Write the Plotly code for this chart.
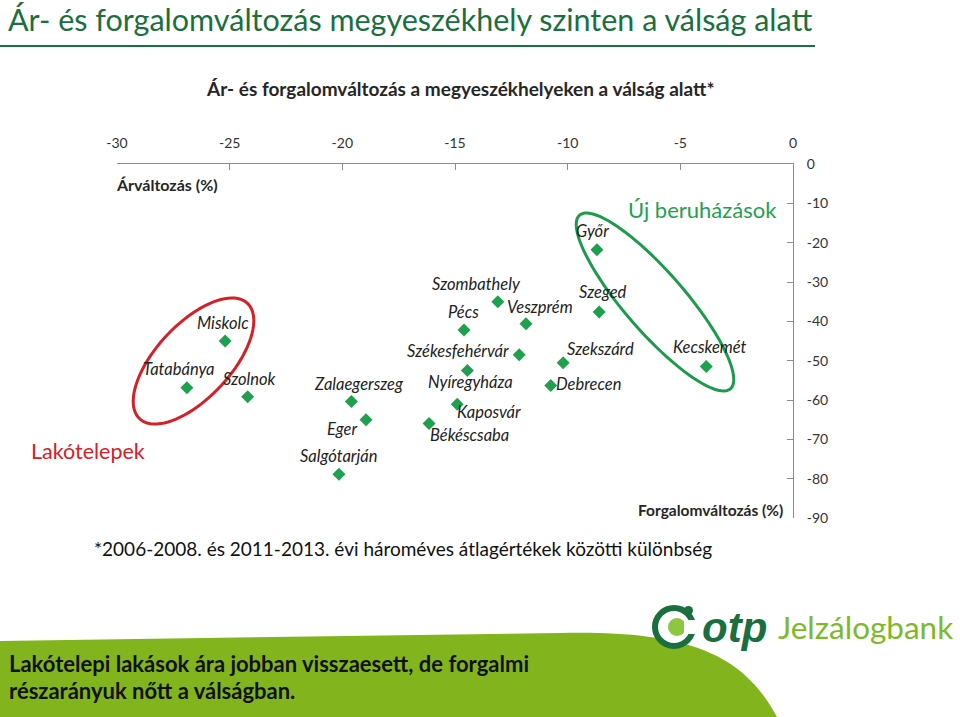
import numpy as np
import plotly.graph_objects as go

# ---------------- data ----------------
cities = ["Miskolc", "Tatabánya", "Szolnok", "Zalaegerszeg", "Eger", "Salgótarján",
          "Békéscsaba", "Kaposvár", "Nyíregyháza", "Pécs", "Szombathely", "Veszprém",
          "Székesfehérvár", "Szekszárd", "Debrecen", "Szeged", "Győr", "Kecskemét"]
price_change = [-25.2, -26.9, -24.2, -19.6, -18.95, -20.15,
                -16.15, -14.9, -14.45, -14.6, -13.1, -11.85,
                -12.15, -10.2, -10.75, -8.6, -8.7, -3.85]
volume_change = [-45.0, -56.9, -59.2, -60.4, -65.0, -78.9,
                 -66.0, -61.1, -52.5, -42.2, -35.0, -40.6,
                 -48.5, -50.5, -56.3, -37.6, -21.8, -51.5]
x_ticks = [-30, -25, -20, -15, -10, -5, 0]
x_tick_labels = ["-30", "-25", "-20", "-15", "-10", "-5", "0"]
y_ticks = [0, -10, -20, -30, -40, -50, -60, -70, -80, -90]
y_tick_labels = ["0", "-10", "-20", "-30", "-40", "-50", "-60", "-70", "-80", "-90"]

# label offsets in pixels (dx, dy up)
label_offsets = {
    "Miskolc": (-2, 18), "Tatabánya": (-8, 19), "Szolnok": (2, 18),
    "Zalaegerszeg": (8, 18), "Eger": (-24, -9), "Salgótarján": (0, 18),
    "Békéscsaba": (40, -11), "Kaposvár": (32, -8), "Nyíregyháza": (3, -11),
    "Pécs": (-1, 18), "Szombathely": (-21, 18), "Veszprém": (14, 17),
    "Székesfehérvár": (-61, 4), "Szekszárd": (37, 14), "Debrecen": (38, 1),
    "Szeged": (4, 20), "Győr": (-4, 19), "Kecskemét": (4, 20),
}

# ---------------- layout geometry ----------------
W, H = 960, 717
L, R, T, B = 117, 167, 164, 199
PW, PH = W - L - R, H - T - B
X0, X1, Y0, Y1 = -30, 0, -90, 0


def px2x(px):
    return (px - L) / PW


def py2y(py):
    return (H - B - py) / PH


def ellipse_path(cx, cy, a, b, deg, n=90):
    th = np.radians(deg)
    t = np.linspace(0, 2 * np.pi, n)
    px = cx + a * np.cos(th) * np.cos(t) - b * np.sin(th) * np.sin(t)
    py = cy - (a * np.sin(th) * np.cos(t) + b * np.cos(th) * np.sin(t))
    xs = X0 + (px - L) / PW * (X1 - X0)
    ys = Y1 - (py - T) / PH * (Y1 - Y0)
    pts = " L ".join(f"{x:.4f},{y:.4f}" for x, y in zip(xs, ys))
    return "M " + pts + " Z"


GREEN = "#1FA04F"
DARK_GREEN = "#1B6F3E"
LIME = "#82B41E"
RED = "#D42027"
FONT = "Lato"

fig = go.Figure()
fig.add_trace(go.Scatter(
    x=price_change, y=volume_change, mode="markers",
    marker=dict(symbol="diamond", size=10, color=GREEN, line=dict(width=0)),
    hovertext=cities, showlegend=False,
))

annotations = []
for c, xv, yv in zip(cities, price_change, volume_change):
    dx, dy = label_offsets[c]
    annotations.append(dict(
        x=xv, y=yv, xref="x", yref="y", text=f"<i>{c}</i>", showarrow=False,
        xshift=dx, yshift=dy, font=dict(family=FONT, size=16.5, color="#222222"),
    ))


def text_at(px, py, text, size, color, anchor="left", family=FONT, yanchor="middle"):
    annotations.append(dict(
        x=px2x(px), y=py2y(py), xref="paper", yref="paper", text=text,
        showarrow=False, xanchor=anchor, yanchor=yanchor,
        font=dict(family=family, size=size, color=color),
    ))


# slide title
text_at(6, 19, "Ár- és forgalomváltozás megyeszékhely szinten a válság alatt", 30.5, DARK_GREEN)
# chart title
text_at(460, 89, "<b>Ár- és forgalomváltozás a megyeszékhelyeken a válság alatt*</b>", 19,
        "#262626", anchor="center")
# axis titles
text_at(114, 184, "<b>Árváltozás (%)</b>", 16, "#262626")
text_at(785, 510, "<b>Forgalomváltozás (%)</b>", 15.5, "#262626", anchor="right")
# group labels
text_at(626, 209, "Új beruházások", 22, GREEN)
text_at(29, 451, "Lakótelepek", 21.5, RED)
# footnote
text_at(92, 548, "*2006-2008. és 2011-2013. évi hároméves átlagértékek közötti különbség", 19,
        "#111111")
# bottom message
text_at(7, 663, "<b>Lakótelepi lakások ára jobban visszaesett, de forgalmi</b>", 22, "#111111")
text_at(7, 690, "<b>részarányuk nőtt a válságban.</b>", 22, "#111111")
# logo text
text_at(700, 627, "<b><i>otp</i></b>", 42, DARK_GREEN, family="Liberation Sans")
text_at(776, 627, "Jelzálogbank", 31.5, "#7DB928")

shapes = [
    # title underline
    dict(type="line", xref="paper", yref="paper", x0=px2x(0), x1=px2x(815),
         y0=py2y(46), y1=py2y(46), line=dict(color=DARK_GREEN, width=2)),
    # bottom swoosh
    dict(type="path", xref="paper", yref="paper", layer="below",
         path=(f"M {px2x(-2)},{py2y(641)} L {px2x(560)},{py2y(633)} "
               f"C {px2x(690)},{py2y(630)} {px2x(745)},{py2y(655)} {px2x(778)},{py2y(719)} "
               f"L {px2x(-2)},{py2y(719)} Z"),
         fillcolor=LIME, line=dict(width=0)),
    # logo icon
    dict(type="circle", xref="paper", yref="paper",
         x0=px2x(655), x1=px2x(693), y0=py2y(646), y1=py2y(608),
         line=dict(color=DARK_GREEN, width=6), fillcolor="white"),
    dict(type="circle", xref="paper", yref="paper",
         x0=px2x(668), x1=px2x(686), y0=py2y(636), y1=py2y(618),
         line=dict(width=0), fillcolor="#8DC63F"),
    dict(type="rect", xref="paper", yref="paper",
         x0=px2x(684), x1=px2x(697), y0=py2y(634), y1=py2y(620),
         line=dict(width=0), fillcolor="white"),
    dict(type="circle", xref="paper", yref="paper",
         x0=px2x(684), x1=px2x(693), y0=py2y(615), y1=py2y(606),
         line=dict(width=0), fillcolor=DARK_GREEN),
    # highlight ellipses
    dict(type="path", xref="x", yref="y", path=ellipse_path(193.5, 361, 79, 37, 47),
         line=dict(color=RED, width=3)),
    dict(type="path", xref="x", yref="y", path=ellipse_path(655, 302, 115, 30, -49),
         line=dict(color="#1E9A4C", width=3)),
]

axis_font = dict(family=FONT, size=14, color="#333333")
fig.update_layout(
    width=W, height=H, margin=dict(l=L, r=R, t=T, b=B, pad=0),
    paper_bgcolor="white", plot_bgcolor="white",
    annotations=annotations, shapes=shapes,
    xaxis=dict(range=[X0, X1], side="top", tickvals=x_ticks, ticktext=x_tick_labels,
               ticks="inside", ticklen=6,
               tickcolor="#8C8C8C", showline=True, linecolor="#8C8C8C", linewidth=1,
               showgrid=False, zeroline=False, tickfont=axis_font, ticklabelstandoff=9),
    yaxis=dict(range=[Y0, Y1], side="right", tickvals=y_ticks, ticktext=y_tick_labels,
               ticks="inside", ticklen=6,
               tickcolor="#8C8C8C", showline=True, linecolor="#8C8C8C", linewidth=1,
               showgrid=False, zeroline=False, tickfont=axis_font, ticklabelstandoff=10),
)

fig.write_html("out.html", config={"displayModeBar": False},
               post_script="document.body.style.margin='0';")
